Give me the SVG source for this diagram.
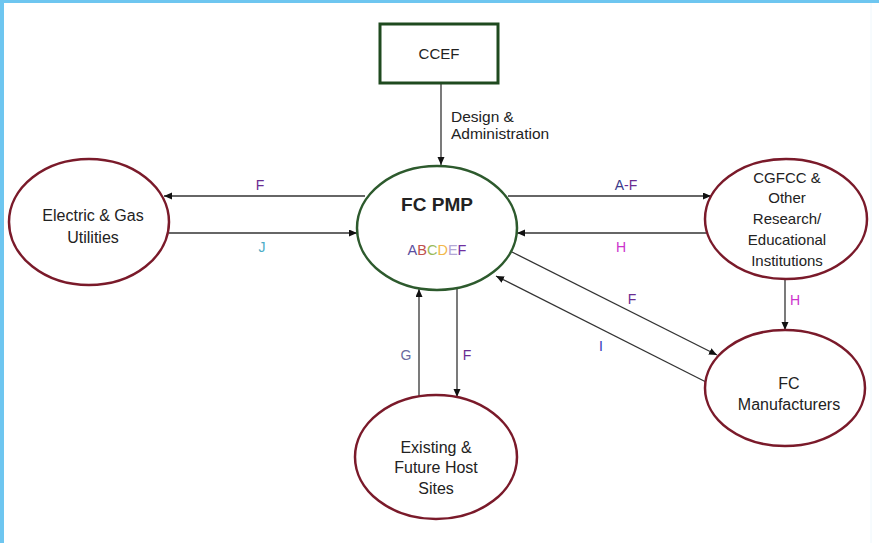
<svg xmlns="http://www.w3.org/2000/svg" width="879" height="543" viewBox="0 0 879 543">
<style>
  text { font-family: "Liberation Sans", Arial, sans-serif; fill: #222; }
  .lbl { font-size: 14px; text-anchor: middle; }
  .node { font-size: 16px; text-anchor: middle; }
  .sm { font-size: 15px; }
  .red { fill: #fff; stroke: #7a1a2a; stroke-width: 2.5; }
  .green { fill: #fff; stroke: #2d5a2d; stroke-width: 2.5; }
  .conn { stroke: #333; stroke-width: 1.3; fill: none; marker-end: url(#arr); }
</style>
<defs>
  <marker id="arr" markerWidth="9" markerHeight="8" refX="8" refY="3.5" orient="auto" markerUnits="userSpaceOnUse">
    <path d="M0,0 L8,3.5 L0,7 z" fill="#111"/>
  </marker>
</defs>
<rect x="0" y="0" width="879" height="543" fill="#fff"/>
<rect x="0" y="0" width="879" height="3" fill="#6ec6f0"/>
<rect x="0" y="0" width="4" height="543" fill="#6ec6f0"/>
<line x1="871" y1="3" x2="871" y2="543" stroke="#eef7fc" stroke-width="1"/>

<g id="connectors">
  <line class="conn" x1="441" y1="84" x2="441" y2="165"/>
  <line class="conn" x1="365" y1="196" x2="164" y2="196"/>
  <line class="conn" x1="169" y1="233" x2="357" y2="233"/>
  <line class="conn" x1="508" y1="196" x2="711" y2="196"/>
  <line class="conn" x1="707" y1="233" x2="517" y2="233"/>
  <line class="conn" x1="785" y1="280" x2="785" y2="330"/>
  <line class="conn" x1="512" y1="252" x2="717" y2="355"/>
  <line class="conn" x1="706" y1="382" x2="496" y2="276"/>
  <line class="conn" x1="419" y1="396" x2="419" y2="289"/>
  <line class="conn" x1="457" y1="289" x2="457" y2="397"/>
  <text class="lbl" x="260" y="190" style="fill:#6a2c91">F</text>
  <text class="lbl" x="262" y="252" style="fill:#4bacc6">J</text>
  <text class="lbl" x="626" y="190"><tspan style="fill:#3b3a8a">A</tspan><tspan style="fill:#6a2c91">-F</tspan></text>
  <text class="lbl" x="621" y="252" style="fill:#cc33cc">H</text>
  <text class="lbl" x="795" y="305" style="fill:#cc33cc">H</text>
  <text class="lbl" x="632" y="304" style="fill:#6a2c91">F</text>
  <text class="lbl" x="601" y="351" style="fill:#3333bb">I</text>
  <text class="lbl" x="406" y="360" style="fill:#6a6aa0">G</text>
  <text class="lbl" x="467" y="360" style="fill:#6a2c91">F</text>
  <text x="451" y="122" style="font-size:15.5px">Design &amp;</text>
  <text x="451" y="139" style="font-size:15.5px">Administration</text>
</g>

<g id="ccef">
  <rect x="380" y="24" width="118" height="59" fill="#fff" stroke="#1f4a1f" stroke-width="3"/>
  <text class="node" x="439" y="59" style="font-size:15px">CCEF</text>
</g>

<g id="fcpmp">
  <ellipse class="green" cx="437" cy="228" rx="80" ry="62"/>
  <text x="437" y="211" style="font-size:19px;font-weight:bold;text-anchor:middle">FC PMP</text>
  <text x="437" y="255" style="font-size:14.5px;text-anchor:middle"><tspan style="fill:#5b4fa0">A</tspan><tspan style="fill:#c0504d">B</tspan><tspan style="fill:#9bbb59">C</tspan><tspan style="fill:#f2b84a">D</tspan><tspan style="fill:#b4a7d6">E</tspan><tspan style="fill:#7030a0">F</tspan></text>
</g>

<g id="utilities">
  <ellipse class="red" cx="89" cy="222" rx="80" ry="63"/>
  <text class="node" x="93" y="221">Electric &amp; Gas</text>
  <text class="node" x="93" y="243">Utilities</text>
</g>

<g id="cgfcc">
  <ellipse class="red" cx="786" cy="219" rx="81" ry="60"/>
  <text class="node sm" x="787" y="183">CGFCC &amp;</text>
  <text class="node sm" x="787" y="203">Other</text>
  <text class="node sm" x="787" y="224">Research/</text>
  <text class="node sm" x="787" y="245">Educational</text>
  <text class="node sm" x="787" y="266">Institutions</text>
</g>

<g id="manufacturers">
  <ellipse class="red" cx="785" cy="388" rx="80" ry="58"/>
  <text class="node" x="789" y="389">FC</text>
  <text class="node" x="789" y="410">Manufacturers</text>
</g>

<g id="hostsites">
  <ellipse class="red" cx="436" cy="457" rx="81" ry="62"/>
  <text class="node" x="436" y="453">Existing &amp;</text>
  <text class="node" x="436" y="473">Future Host</text>
  <text class="node" x="436" y="494">Sites</text>
</g>
</svg>
